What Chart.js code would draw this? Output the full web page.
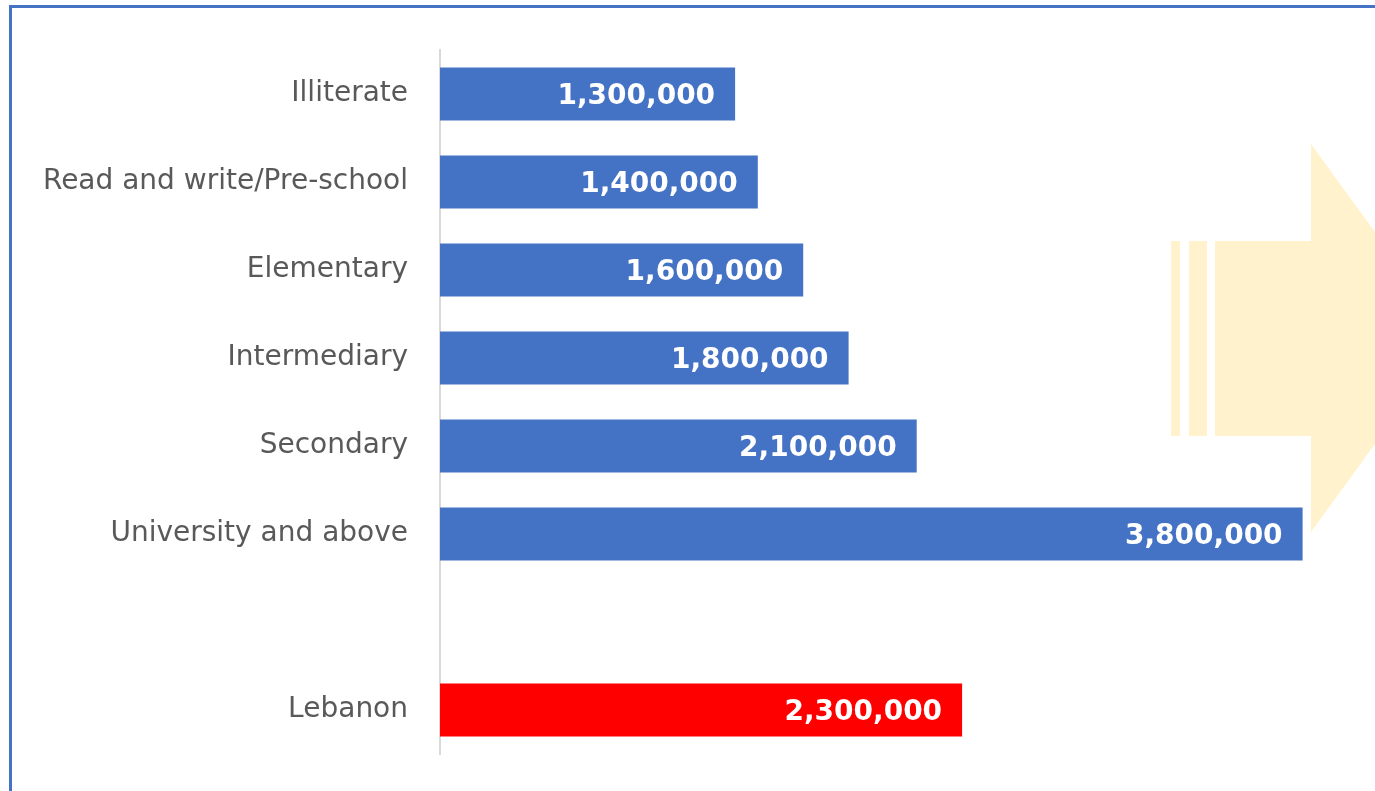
<!DOCTYPE html>
<html>
<head>
<meta charset="utf-8">
<script src="https://cdn.jsdelivr.net/npm/chart.js@4"></script>
<style>
  html, body { margin: 0; padding: 0; background: #fff; }
  #wrap { position: relative; width: 1375px; height: 791px; overflow: hidden; }
  #frame { position: absolute; left: 9px; top: 5px; right: -10px; bottom: -10px;
           border-top: 3px solid #4472C4; border-left: 3px solid #4472C4; pointer-events: none; }
  canvas { position: absolute; left: 0; top: 0; }
</style>
</head>
<body>
<div id="wrap">
  <canvas id="chart" width="1375" height="791"></canvas>
  <div id="frame"></div>
</div>
<script>
// Data
const categories = ['Illiterate', 'Read and write/Pre-school', 'Elementary', 'Intermediary',
                    'Secondary', 'University and above', '', 'Lebanon'];
const values = [1300000, 1400000, 1600000, 1800000, 2100000, 3800000, null, 2300000];
const barColors = ['#4472C4', '#4472C4', '#4472C4', '#4472C4', '#4472C4', '#4472C4', '#4472C4', '#FF0000'];

// Pale arrow in the background, right side
const arrowPlugin = {
  id: 'arrow',
  beforeDatasetsDraw(chart) {
    const ctx = chart.ctx;
    ctx.save();
    ctx.fillStyle = '#FFF2CC';
    ctx.fillRect(1171, 241, 9, 195);
    ctx.fillRect(1189, 241, 18, 195);
    ctx.beginPath();
    ctx.moveTo(1215, 241);
    ctx.lineTo(1311, 241);
    ctx.lineTo(1311, 144);
    ctx.lineTo(1452, 338);
    ctx.lineTo(1311, 532);
    ctx.lineTo(1311, 436);
    ctx.lineTo(1215, 436);
    ctx.closePath();
    ctx.fill();
    ctx.restore();
  }
};

// Value labels inside bar ends
const valueLabels = {
  id: 'valueLabels',
  afterDatasetsDraw(chart) {
    const ctx = chart.ctx;
    const meta = chart.getDatasetMeta(0);
    ctx.save();
    ctx.font = 'bold 28px "DejaVu Sans"';
    ctx.fillStyle = '#fff';
    ctx.textAlign = 'right';
    ctx.textBaseline = 'middle';
    meta.data.forEach((bar, i) => {
      if (values[i] == null) return;
      ctx.fillText(values[i].toLocaleString('en-US'), bar.x - 20, bar.y + 3);
    });
    ctx.restore();
  }
};

new Chart(document.getElementById('chart'), {
  type: 'bar',
  data: {
    labels: categories,
    datasets: [{
      data: values,
      backgroundColor: barColors,
      borderWidth: 0,
      categoryPercentage: 1,
      barPercentage: 0.6
    }]
  },
  options: {
    indexAxis: 'y',
    responsive: false,
    animation: false,
    layout: { padding: { top: 50, bottom: 37, left: 0, right: 27 } },
    plugins: { legend: { display: false }, tooltip: { enabled: false } },
    scales: {
      x: { display: false, min: 0, max: 4000000 },
      y: {
        grid: { display: false },
        border: { display: true, color: '#D9D9D9', width: 2 },
        ticks: { color: '#595959', padding: 24, font: { family: 'DejaVu Sans', size: 28 } },
        afterFit(scale) {
          scale.width = 440;
          scale.paddingTop = 0;
          scale.paddingBottom = 0;
        }
      }
    }
  },
  plugins: [arrowPlugin, valueLabels]
});
</script>
</body>
</html>
